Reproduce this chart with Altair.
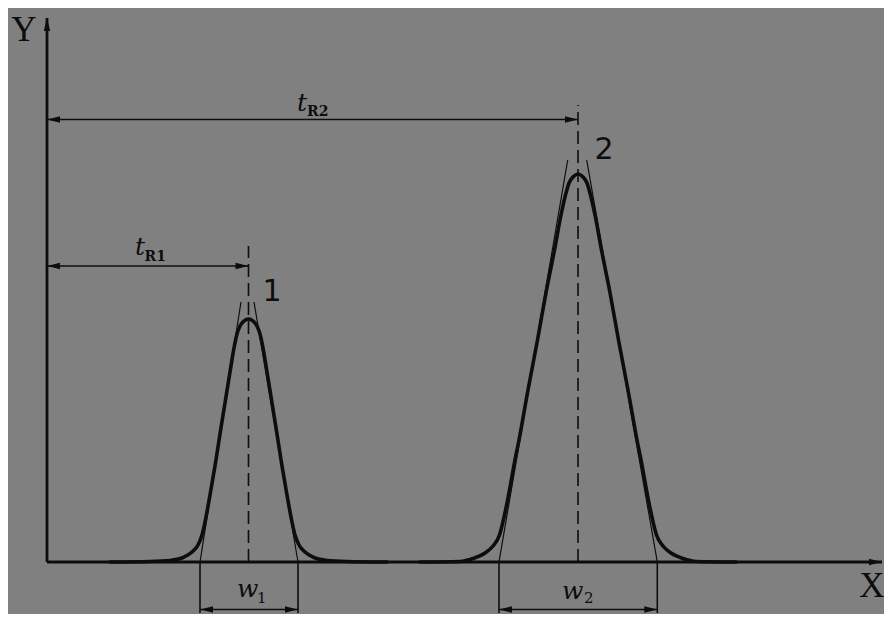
import altair as alt
import pandas as pd

# ---- data (x: time units from the Y axis, y: detector signal above baseline) ----
p1_x = [63, 103, 123, 136, 145, 151, 155, 158, 163, 168, 173, 178, 183, 187, 190, 193, 197, 201.5,
        206, 210, 213, 216, 220, 225, 230, 235, 240, 245, 248, 252, 258, 267, 280, 300, 340]
p1_y = [0, 0.5, 1.5, 4.5, 10, 17, 27, 40, 67, 96, 128, 159, 190, 214, 228, 236, 241, 243,
        241, 236, 228, 214, 190, 159, 128, 96, 67, 40, 27, 17, 10, 4.5, 1.5, 0.5, 0]
p2_x = [373, 413, 426, 438, 446, 452.5, 457.5, 462.5, 467, 472, 481, 490.5, 499.5, 507.5, 514, 518.5, 522, 526, 531,
        536, 540, 543.5, 548, 554.5, 562.5, 571.5, 581, 590, 595, 599.5, 604.5, 609.5, 616, 624, 636, 649, 689]
p2_y = [0, 0.5, 3.5, 9, 16, 27, 47, 72, 97, 122, 172, 222, 272, 312, 347, 367, 379, 385, 388,
        385, 379, 367, 347, 312, 272, 222, 172, 122, 97, 72, 47, 27, 16, 9, 3.5, 0.5, 0]

peak_names = ["1", "2"]
t_r = [201.5, 531]                 # retention times
w_left = [153, 452]                # tangent / baseline intersections
w_right = [251, 610.3]
tan_top_y = [260, 402]
tan_top_left = [194, 520.7]
tan_top_right = [207, 539.7]
dash_top = [316, 457]
tr_arrow_y = [296, 442.5]
w_arrow_y = -47.5
w_tick_low = -51
x_axis_end = 835
y_axis_end = 544

INK = "#0d0d0d"
BG = "#808080"
xs = alt.Scale(domain=[-39, 837], nice=False, zero=False)
ys = alt.Scale(domain=[-52, 554], nice=False, zero=False)


def X(f="x"):
    return alt.X(f"{f}:Q", scale=xs, axis=None)


def Y(f="y"):
    return alt.Y(f"{f}:Q", scale=ys, axis=None)


curves = pd.DataFrame({
    "x": p1_x + p2_x,
    "y": p1_y + p2_y,
    "peak": ["1"] * len(p1_x) + ["2"] * len(p2_x),
})

seg_rows = []
seg_rows.append(dict(x=0, y=0, x2=0, y2=y_axis_end, kind="axis"))
seg_rows.append(dict(x=0, y=0, x2=x_axis_end, y2=0, kind="axis"))
for i in range(2):
    seg_rows.append(dict(x=w_left[i], y=0, x2=tan_top_left[i], y2=tan_top_y[i], kind="tangent"))
    seg_rows.append(dict(x=w_right[i], y=0, x2=tan_top_right[i], y2=tan_top_y[i], kind="tangent"))
    seg_rows.append(dict(x=0, y=tr_arrow_y[i], x2=t_r[i], y2=tr_arrow_y[i], kind="thin"))
    seg_rows.append(dict(x=w_left[i], y=w_arrow_y, x2=w_right[i], y2=w_arrow_y, kind="thin"))
    seg_rows.append(dict(x=w_left[i], y=0, x2=w_left[i], y2=w_tick_low, kind="thin"))
    seg_rows.append(dict(x=w_right[i], y=0, x2=w_right[i], y2=w_tick_low, kind="thin"))
segs = pd.DataFrame(seg_rows)

dashes = pd.DataFrame({"x": t_r, "y": [0, 0], "y2": dash_top})

heads = pd.DataFrame([
    dict(x=0, y=y_axis_end, ang=270),
    dict(x=x_axis_end, y=0, ang=0),
    dict(x=0, y=tr_arrow_y[0], ang=180), dict(x=t_r[0], y=tr_arrow_y[0], ang=0),
    dict(x=0, y=tr_arrow_y[1], ang=180), dict(x=t_r[1], y=tr_arrow_y[1], ang=0),
    dict(x=w_left[0], y=w_arrow_y, ang=180), dict(x=w_right[0], y=w_arrow_y, ang=0),
    dict(x=w_left[1], y=w_arrow_y, ang=180), dict(x=w_right[1], y=w_arrow_y, ang=0),
])

axis_labels = pd.DataFrame({"x": [-23, 825], "y": [532, -23.5], "t": ["Y", "X"]})
peak_labels = pd.DataFrame({"x": [225, 557], "y": [270.5, 412.5], "t": peak_names})
main_sym = pd.DataFrame({"x": [88, 250, 190, 515], "y": [307, 451, -35, -37], "t": ["t", "t", "w", "w"]})
sub_r = pd.DataFrame({"x": [97.5, 260], "y": [301, 446], "t": ["R1", "R2"]})
sub_w = pd.DataFrame({"x": [210, 537], "y": [-41, -41], "t": peak_names})

line_layer = alt.Chart(curves).mark_line(
    color=INK, strokeWidth=3.6, interpolate="monotone", strokeCap="round", strokeJoin="round"
).encode(x=X(), y=Y(), detail="peak:N", order="x:Q")

axis_layer = alt.Chart(segs).transform_filter("datum.kind == 'axis'").mark_rule(
    color=INK, strokeWidth=2.8).encode(x=X(), y=Y(), x2="x2:Q", y2="y2:Q")
tan_layer = alt.Chart(segs).transform_filter("datum.kind == 'tangent'").mark_rule(
    color=INK, strokeWidth=1.2).encode(x=X(), y=Y(), x2="x2:Q", y2="y2:Q")
thin_layer = alt.Chart(segs).transform_filter("datum.kind == 'thin'").mark_rule(
    color=INK, strokeWidth=1.6).encode(x=X(), y=Y(), x2="x2:Q", y2="y2:Q")
dash_layer = alt.Chart(dashes).mark_rule(
    color=INK, strokeWidth=1.6, strokeDash=[13, 6]).encode(x=X(), y=Y(), y2="y2:Q")

head_layer = alt.Chart(heads).mark_point(
    shape="M0,0L-2,-0.5L-2,0.5Z", filled=True, opacity=1, color=INK, size=169, strokeWidth=0
).encode(x=X(), y=Y(), angle=alt.Angle("ang:Q", scale=None))

axis_text = alt.Chart(axis_labels).mark_text(
    font="Liberation Serif", fontSize=35, color=INK, align="center", baseline="middle"
).encode(x=X(), y=Y(), text="t:N")
peak_text = alt.Chart(peak_labels).mark_text(
    font="DejaVu Sans", fontSize=30, color=INK, align="center", baseline="middle"
).encode(x=X(), y=Y(), text="t:N")
main_text = alt.Chart(main_sym).mark_text(
    font="DejaVu Serif", fontStyle="italic", fontSize=25, color=INK, align="left", baseline="alphabetic"
).encode(x=X(), y=Y(), text="t:N")
sub_r_text = alt.Chart(sub_r).mark_text(
    font="DejaVu Serif", fontSize=14, fontWeight="bold", color=INK, align="left", baseline="alphabetic"
).encode(x=X(), y=Y(), text="t:N")
sub_w_text = alt.Chart(sub_w).mark_text(
    font="DejaVu Serif", fontSize=15, color=INK, align="left", baseline="alphabetic"
).encode(x=X(), y=Y(), text="t:N")

chart = alt.layer(
    tan_layer, thin_layer, dash_layer, axis_layer, line_layer, head_layer,
    axis_text, peak_text, main_text, sub_r_text, sub_w_text
).properties(
    width=876, height=606,
    autosize=alt.AutoSizeParams(type="none"),
    padding=0,
    background=BG,
).configure_view(stroke=None)

chart.save("out.html", embed_options={"renderer": "svg", "actions": False})
